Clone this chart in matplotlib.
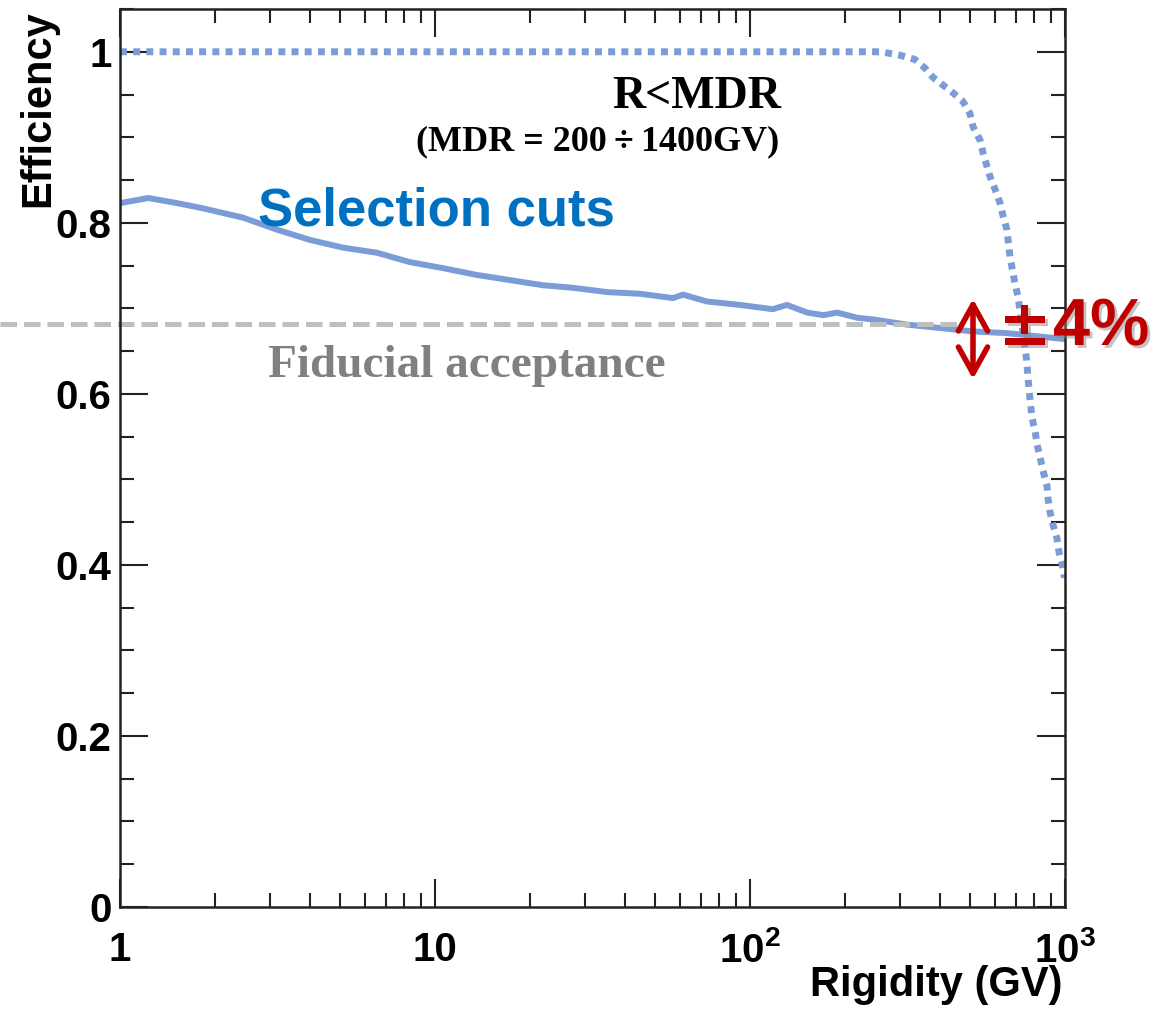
import numpy as np
import matplotlib
matplotlib.use('Agg')
import matplotlib.pyplot as plt
import matplotlib.transforms as mtransforms
import matplotlib.patheffects as pe
from matplotlib.ticker import FixedLocator, FixedFormatter, MultipleLocator, LogLocator

# selection cuts efficiency (solid)
sel_rigidity = [1.0, 1.23, 1.52, 1.83, 2.46, 3.15, 4.01, 5.10, 6.54, 8.33, 10.6, 13.6,
                17.3, 22.0, 27.4, 35.2, 44.8, 57.0, 61.3, 73.0, 92.9, 118, 131, 152,
                171, 189, 219, 246, 315, 401, 510, 654, 833, 1000]
sel_eff = [0.823, 0.829, 0.823, 0.817, 0.806, 0.792, 0.780, 0.771, 0.765, 0.754, 0.747, 0.739,
           0.733, 0.727, 0.724, 0.719, 0.717, 0.712, 0.716, 0.708, 0.704, 0.699, 0.704, 0.695,
           0.692, 0.695, 0.689, 0.687, 0.681, 0.677, 0.673, 0.671, 0.667, 0.664]

# R < MDR efficiency (dotted)
mdr_rigidity = [1.0, 260, 299, 334, 359, 381, 441, 474, 499, 511, 537, 549, 578, 600, 622,
                637, 654, 669, 693, 709, 736, 755, 770, 786, 804, 815, 834, 852, 877, 883,
                896, 916, 943, 957, 978, 995]
mdr_eff = [1.0, 1.0, 0.996, 0.991, 0.981, 0.970, 0.952, 0.942, 0.928, 0.912, 0.897, 0.882,
           0.854, 0.839, 0.823, 0.807, 0.792, 0.760, 0.730, 0.714, 0.671, 0.640, 0.602, 0.572,
           0.556, 0.541, 0.525, 0.510, 0.492, 0.478, 0.462, 0.447, 0.431, 0.415, 0.402, 0.385]

fiducial_level = 0.682
x_ticks = [1, 10, 100, 1000]
x_ticklabels = ['1', '10', r'$\mathbf{10^{2}}$', r'$\mathbf{10^{3}}$']
y_ticks = [0, 0.2, 0.4, 0.6, 0.8, 1.0]
y_ticklabels = ['0', '0.2', '0.4', '0.6', '0.8', '1']

plt.rcParams['font.family'] = ['Liberation Sans', 'DejaVu Sans']
plt.rcParams['font.weight'] = 'bold'
plt.rcParams['mathtext.fontset'] = 'custom'
plt.rcParams['mathtext.bf'] = 'Liberation Sans:bold'
plt.rcParams['mathtext.rm'] = 'Liberation Sans:bold'

W, H = 1157, 1009
fig = plt.figure(figsize=(W / 100, H / 100), dpi=100)
ax = fig.add_axes([120 / W, 1 - 907 / H, 945 / W, 898 / H])

line_blue = '#7b9cd6'
ax.plot(sel_rigidity, sel_eff, color=line_blue, lw=4.3, solid_capstyle='butt')
ax.plot(mdr_rigidity, mdr_eff, color=line_blue, lw=5, linestyle=(0, (1, 0.9)),
        dash_capstyle='butt')

ax.set_xscale('log')
ax.set_xlim(1, 1000)
ax.set_ylim(0, 1.05)

ax.xaxis.set_major_locator(FixedLocator(x_ticks))
ax.xaxis.set_major_formatter(FixedFormatter(x_ticklabels))
ax.xaxis.set_minor_locator(LogLocator(base=10, subs=np.arange(2, 10)))
ax.xaxis.set_minor_formatter(FixedFormatter([]))
ax.yaxis.set_major_locator(FixedLocator(y_ticks))
ax.yaxis.set_major_formatter(FixedFormatter(y_ticklabels))
ax.yaxis.set_minor_locator(MultipleLocator(0.05))

ax.tick_params(which='both', direction='in', top=True, right=True, width=1.5, color='#222222')
ax.tick_params(which='major', length=20, labelsize=29)
ax.tick_params(which='minor', length=10)
ax.tick_params(axis='x', which='major', pad=17)
ax.tick_params(axis='y', which='major', pad=6)
for s in ax.spines.values():
    s.set_linewidth(1.8)
    s.set_color('#222222')

# axis titles (ROOT style, at the ends)
fig.text(38 / W, 1 - 10 / H, 'Efficiency', rotation=90, ha='center', va='top',
         fontsize=30, fontweight='bold')
fig.text(1062 / W, 1 - 996 / H, 'Rigidity (GV)', ha='right', va='baseline',
         fontsize=30, fontweight='bold')

# fiducial acceptance dashed line (extends to the left edge of the figure)
trans = mtransforms.blended_transform_factory(fig.transFigure, ax.transData)
ax.plot([0, 960 / W], [fiducial_level, fiducial_level], transform=trans, clip_on=False,
        color='#bfbfbf', lw=3.6, linestyle=(0, (3.3, 1.4)), dash_capstyle='butt')

serif = ['Liberation Serif', 'DejaVu Serif']
fig.text(697 / W, 1 - 108 / H, 'R<MDR', ha='center', va='baseline', fontsize=33,
         fontweight='bold', family=serif)
fig.text(598 / W, 1 - 150 / H, '(MDR = 200\u2009\u00f7\u20091400GV)', ha='center', va='baseline',
         fontsize=26, fontweight='bold', family=serif)
fig.text(258 / W, 1 - 225 / H, 'Selection cuts', ha='left', va='baseline', fontsize=38,
         fontweight='bold', color='#0070c0')
fig.text(268 / W, 1 - 377 / H, 'Fiducial acceptance', ha='left', va='baseline', fontsize=34,
         fontweight='bold', color='#808080', family=serif)

# systematic band indicator
shadow = [pe.withSimplePatchShadow(offset=(2, -2), shadow_rgbFace='#888888', alpha=0.5)]
fig.text(998 / W, 1 - 345 / H, '\u00b1', ha='left', va='baseline', fontsize=46,
         fontweight='bold', color='#c00000', family=['DejaVu Sans'], path_effects=shadow)
fig.text(1053 / W, 1 - 345 / H, '4%', ha='left', va='baseline', fontsize=48,
         fontweight='bold', color='#c00000', path_effects=shadow)
ax.annotate('', xy=(973 / W, 1 - 299 / H), xytext=(973 / W, 1 - 379 / H),
            xycoords='figure fraction', textcoords='figure fraction',
            arrowprops=dict(arrowstyle='<->, head_length=0.45, head_width=0.25',
                            color='#c00000', lw=4, mutation_scale=42,
                            shrinkA=0, shrinkB=0))

fig.savefig('out.png', dpi=100)
